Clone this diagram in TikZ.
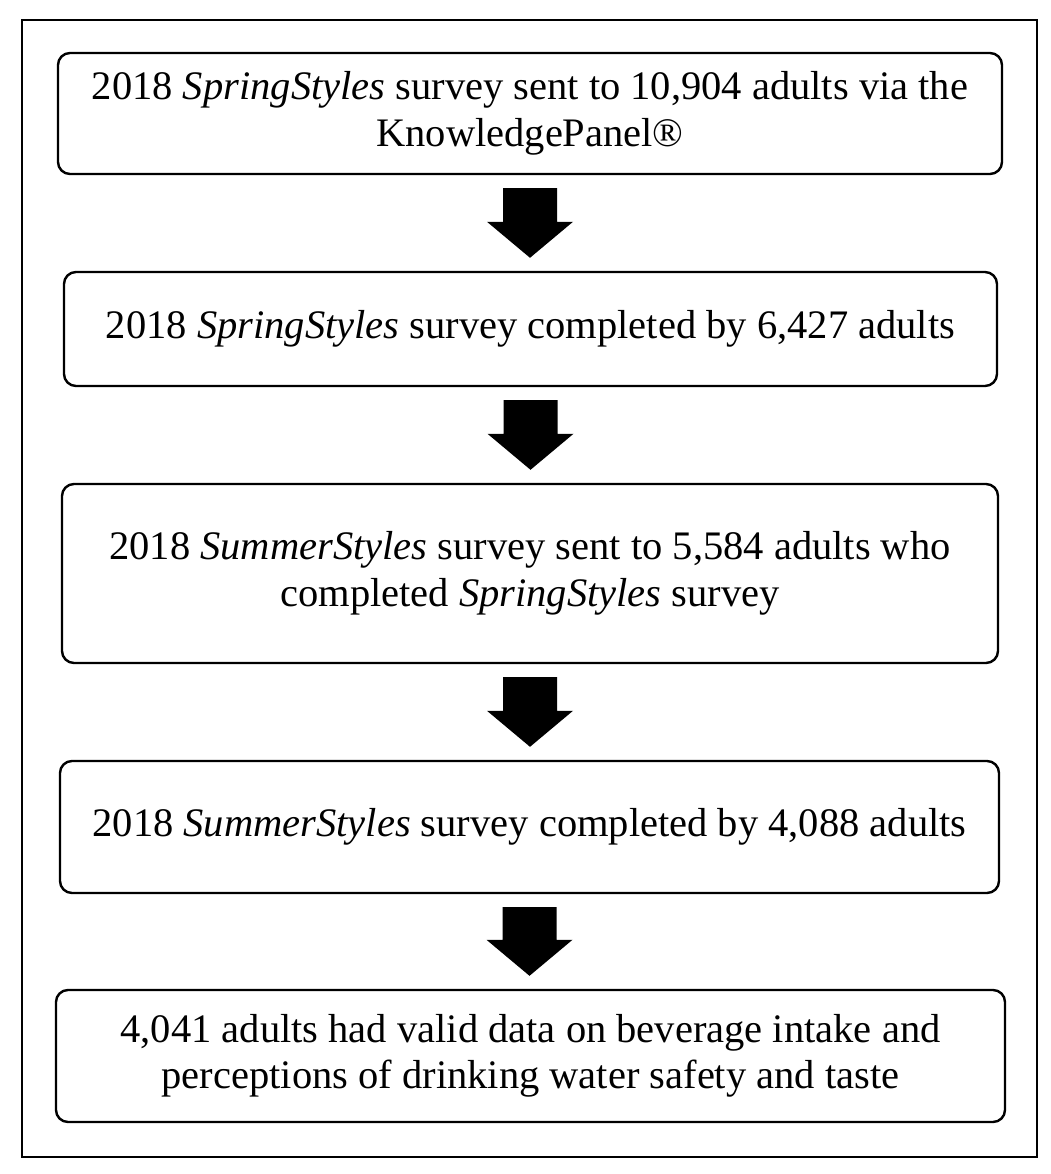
\documentclass[tikz,border=0pt]{standalone}
\usepackage{fontspec}
\setmainfont{Liberation Serif}
\usetikzlibrary{calc}
\tikzset{
  stepbox/.style={draw=black, line width=2.4pt, rounded corners=12pt, align=center,
    inner sep=0pt, font=\fontsize{40.5}{46.5}\selectfont},
  frame/.style={draw=black, line width=2.4pt},
}
\newcommand\blockarrow[2]{%
  \fill[black] let \p1=(#1.south), \p2=(#2.north) in
    (\x1-27pt,\y1-13pt) -- (\x1+27pt,\y1-13pt) -- (\x1+27pt,\y2+49pt) --
    (\x1+43pt,\y2+49pt) -- (\x1,\y2+13pt) -- (\x1-43pt,\y2+49pt) --
    (\x1-27pt,\y2+49pt) -- cycle;}
\begin{document}
\begin{tikzpicture}[x=1pt,y=-1pt]
\useasboundingbox (0,0) rectangle (1050,1174);
\draw[frame] (22,20) rectangle (1037,1157);
\node[stepbox, minimum width=944pt, minimum height=121pt] (b1) at (530,113.5)
  {2018 \textit{SpringStyles} survey sent to 10,904 adults via the\\KnowledgePanel®};
\node[stepbox, minimum width=933pt, minimum height=114pt] (b2) at (530.5,329)
  {2018 \textit{SpringStyles} survey completed by 6,427 adults};
\node[stepbox, minimum width=936pt, minimum height=179pt] (b3) at (530,573.5)
  {2018 \textit{SummerStyles} survey sent to 5,584 adults who\\completed \textit{SpringStyles} survey};
\node[stepbox, minimum width=939pt, minimum height=132pt] (b4) at (529.5,827)
  {2018 \textit{SummerStyles} survey completed by 4,088 adults};
\node[stepbox, minimum width=949pt, minimum height=132pt] (b5) at (530.5,1056)
  {4,041 adults had valid data on beverage intake and\\perceptions of drinking water safety and taste};
\blockarrow{b1}{b2}
\blockarrow{b2}{b3}
\blockarrow{b3}{b4}
\blockarrow{b4}{b5}
\end{tikzpicture}
\end{document}
